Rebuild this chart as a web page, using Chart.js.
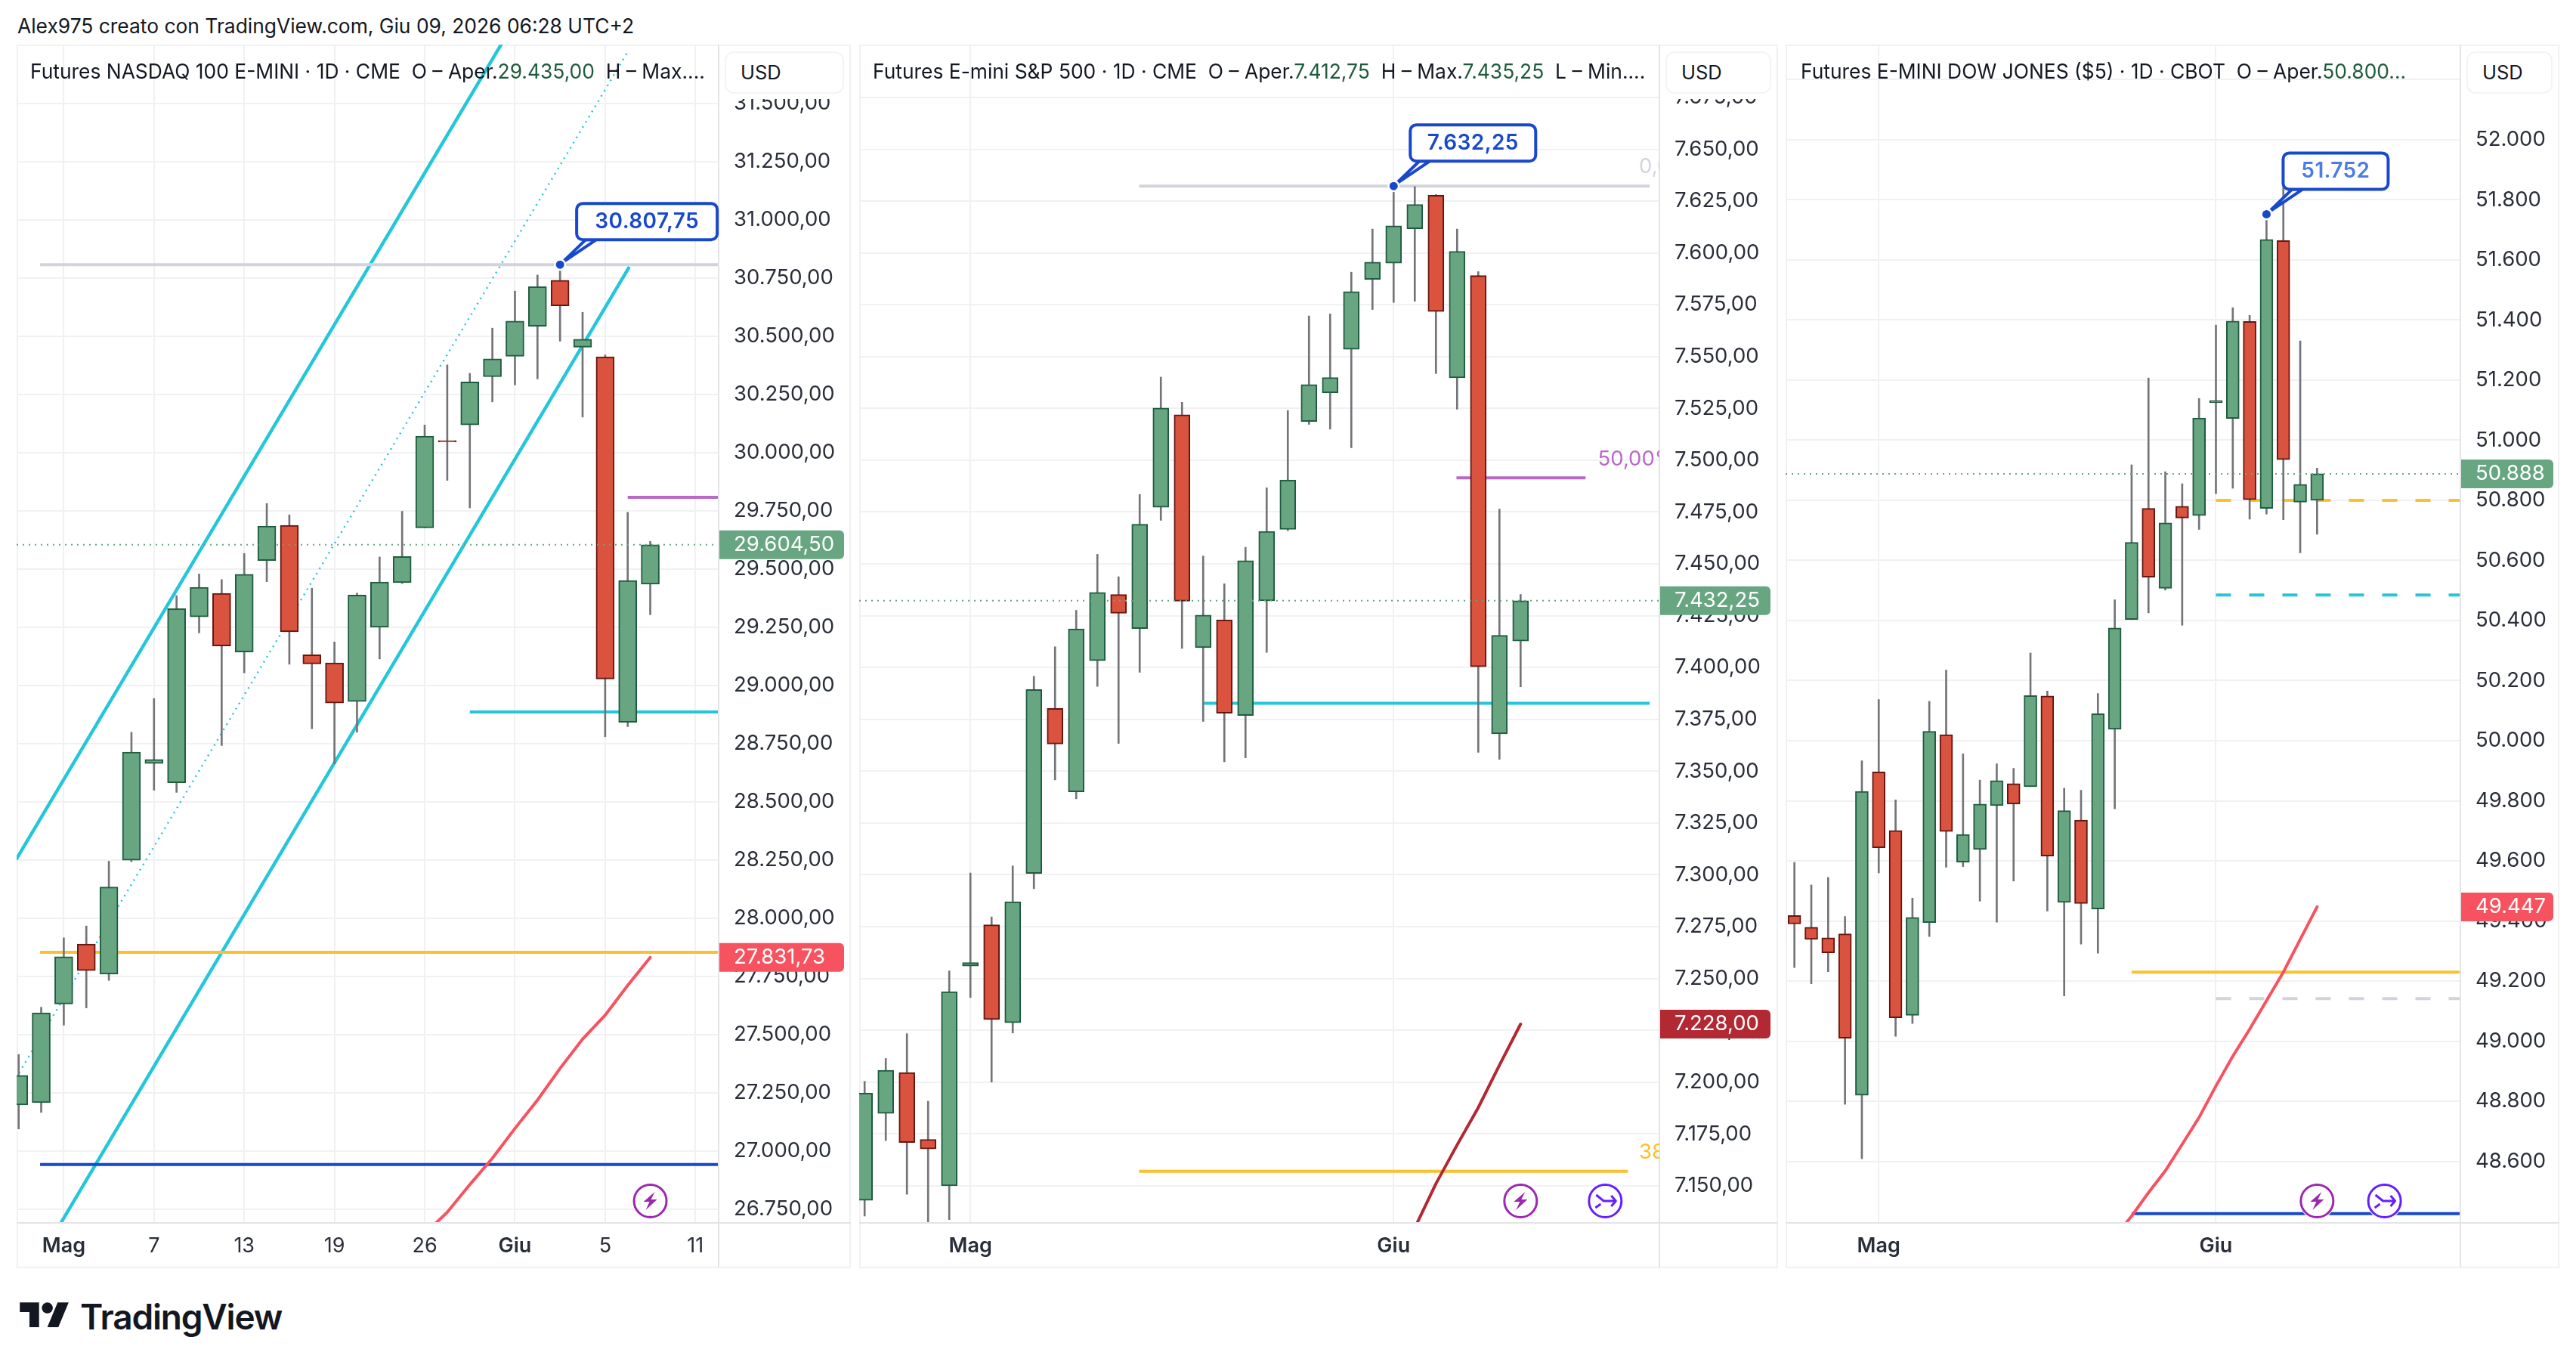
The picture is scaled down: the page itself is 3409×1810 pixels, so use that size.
<!DOCTYPE html>
<html>
<head>
<meta charset="utf-8">
<title>Futures</title>
<script src="https://cdn.jsdelivr.net/npm/chart.js@4/dist/chart.umd.js"></script>
<style>
  html, body { margin: 0; background: #fff; width: 3409px; height: 1810px; overflow: hidden; }
  body, div, span { font-family: "Inter", sans-serif; color: #131722; }
  canvas { position: absolute; top: 59px; }
  #nq { left: 22px; }
  #es { left: 1137px; }
  #ym { left: 2363px; }
  .line { position: absolute; white-space: pre; font-size: 26.4px; line-height: 30px; }
  .title { left: 23px; top: 19px; }
  .legend { top: 79px; }
  .legend b { font-weight: 400; color: #1e5b3c; }
  .mask { position: absolute; top: 61px; height: 70px; background: #fff; }
  .usd { position: absolute; top: 68px; height: 56px; box-sizing: border-box; background: #fff; border: 2px solid #f4f4f5; border-radius: 12px; font-size: 25.5px; line-height: 52px; padding-left: 19px; }
  .brand { position: absolute; left: 26px; top: 1716px; display: flex; align-items: center; }
  .brand span { font-size: 46px; font-weight: 600; letter-spacing: -1.2px; margin-left: 14px; line-height: 50px; }
</style>
</head>
<body>
<div class="line title">Alex975 creato con TradingView.com, Giu 09, 2026 06:28 UTC+2</div>

<canvas id="nq" width="1104" height="1619"></canvas>
<canvas id="es" width="1216" height="1619"></canvas>
<canvas id="ym" width="1024" height="1619"></canvas>

<div class="line legend" style="left:40px">Futures NASDAQ 100 E-MINI · 1D · CME  O – Aper.<b>29.435,00</b>  H – Max....</div>
<div class="line legend" style="left:1155px">Futures E-mini S&amp;P 500 · 1D · CME  O – Aper.<b>7.412,75</b>  H – Max.<b>7.435,25</b>  L – Min....</div>
<div class="line legend" style="left:2383px">Futures E-MINI DOW JONES ($5) · 1D · CBOT  O – Aper.<b>50.800...</b></div>

<div class="mask" style="left:953px;width:171px"></div>
<div class="mask" style="left:2198px;width:153px"></div>
<div class="mask" style="left:3258px;width:127px"></div>

<div class="usd" style="left:959px;width:158px">USD</div>
<div class="usd" style="left:2204px;width:140px">USD</div>
<div class="usd" style="left:3264px;width:114px">USD</div>

<div class="brand">
  <svg width="66" height="51" viewBox="0 0 36 28"><path fill="#131722" d="M14 22H7V11H0V4h14v18zM28 22h-8l7.5-18h8L28 22z"/><circle fill="#131722" cx="20" cy="8" r="4"/></svg>
  <span>TradingView</span>
</div>

<script>
// Futures NASDAQ 100 E-MINI, daily bars from 29 Apr
const nqOpen = [27198, 27208, 27632, 27889, 27760, 28249, 28665, 28582, 29295, 29396, 29144, 29537, 29688, 29132, 29097, 28931, 29250, 29442, 29677, 30052, 30119, 30326, 30414, 30543, 30741, 30453, 30412, 28842, 29435];
const nqHigh = [27415, 27618, 27916, 27967, 28245, 28799, 28944, 29386, 29479, 29455, 29567, 29782, 29733, 29418, 29187, 29397, 29552, 29748, 30119, 30377, 30341, 30535, 30694, 30763, 30807.75, 30603, 30420, 29744, 29619];
const nqLow = [27095, 27166, 27541, 27615, 27733, 28243, 28550, 28541, 29226, 28742, 29054, 29446, 29091, 28814, 28663, 28799, 29114, 29438, 29677, 29881, 29763, 30218, 30291, 30317, 30479, 30153, 28780, 28823, 29304];
const nqClose = [27325, 27594, 27835, 27775, 28134, 28714, 28682, 29330, 29422, 29170, 29478, 29685, 29231, 29093, 28925, 29388, 29444, 29554, 30071, 30046, 30304, 30403, 30565, 30713, 30631, 30487, 29028, 29451, 29604.5];
const nqTicks = [26750, 27000, 27250, 27500, 27750, 28000, 28250, 28500, 28750, 29000, 29250, 29500, 29750, 30000, 30250, 30500, 30750, 31000, 31250, 31500];
const nqDateAt = [2, 6, 10, 14, 18, 22, 26, 30];
const nqDateNames = ['Mag', '7', '13', '19', '26', 'Giu', '5', '11'];
const nqAverage = [26645, 26737, 26856, 26969, 27097, 27219, 27355, 27481, 27584, 27712, 27831.73];
const nqAverageFrom = 18;
const nqLevels = [30807.75, 29808, 28886, 27854, 26942];
const nqLevelFrom = [0.95, 27, 20, 0.95, 0.95];
const nqUpperBand = [[-0.09, 28256], [21.4, 31755]];
const nqLowerBand = [[1.9, 26696], [27.04, 30793]];
const nqMiddleBand = [[0.02, 27336], [27, 31722]];

// Futures E-mini S&P 500
const esOpen = [7143, 7184.9, 7204.6, 7172.4, 7150, 7256, 7275.9, 7228.7, 7300.7, 7380.3, 7340, 7403.3, 7435.2, 7418.8, 7477.3, 7521.9, 7409.6, 7423, 7376.9, 7432.2, 7466.6, 7518.7, 7532.5, 7553.5, 7587.2, 7595.1, 7611.7, 7627.8, 7539.7, 7589.1, 7368, 7412.75];
const esHigh = [7200.4, 7211.4, 7223.4, 7190.8, 7253.7, 7300.9, 7279.7, 7304.3, 7395.8, 7410, 7427.6, 7454.6, 7443.8, 7483.5, 7540.1, 7527.9, 7453.8, 7440.4, 7458, 7486.7, 7524, 7569.6, 7570.6, 7590.7, 7611.5, 7632.25, 7632, 7628.2, 7611.5, 7591, 7476.4, 7435.25];
const esLow = [7135.4, 7171.8, 7145.9, 7130, 7133.7, 7240.8, 7200, 7223.7, 7293.3, 7345.8, 7336.7, 7390.9, 7363.4, 7397.7, 7471, 7409.2, 7374, 7354.5, 7356.4, 7407.3, 7466, 7517.3, 7515, 7506, 7572.7, 7576.1, 7576.7, 7541.8, 7524.6, 7359.1, 7355.7, 7390.7];
const esClose = [7194.7, 7205.7, 7170.9, 7167.8, 7243.6, 7257.7, 7230.2, 7287, 7389.4, 7363.1, 7418.6, 7436.2, 7426.2, 7469.1, 7525.2, 7432, 7425.3, 7378, 7451.5, 7465.7, 7490.5, 7536.5, 7539.9, 7581.3, 7595.6, 7613.1, 7623.4, 7571.7, 7600.8, 7400.4, 7415.5, 7432.25];
const esTicks = [7150, 7175, 7200, 7225, 7250, 7275, 7300, 7325, 7350, 7375, 7400, 7425, 7450, 7475, 7500, 7525, 7550, 7575, 7600, 7625, 7650, 7675];
const esDateAt = [5, 25];
const esDateNames = ['Mag', 'Giu'];
const esAverage = [7109.4, 7129.7, 7151, 7169.7, 7187.7, 7208.2, 7228];
const esAverageFrom = 25;
const esLevels = [7632.25, 7491.5, 7382.8, 7157];
const esLevelFrom = [12.97, 27.97, 16, 12.97];
const esLevelTo = [37.1, 34.07, 37.1, 36.07];
const esFibNames = ['0,00%', '50,00%', '38,20%'];
const esFibValues = [7632.25, 7491.5, 7157];
const esFibAt = [36.6, 34.65, 36.6];

// Futures E-MINI DOW JONES ($5)
const ymOpen = [49418, 49379, 49344, 49357, 48820, 49896, 49701, 49086, 49395, 50020, 49596, 49638, 49784, 49857, 49847, 50149, 49462, 49736, 49440, 50038, 50403, 50773, 50507, 50780, 50749, 51125, 51072, 51395, 50773, 51664, 50794, 50800];
const ymHigh = [49595, 49520, 49545, 49415, 49933, 50137, 49803, 49476, 50131, 50235, 49956, 49869, 49923, 49908, 50292, 50165, 49842, 49835, 50157, 50469, 50918, 51207, 50895, 50855, 51139, 51383, 51441, 51415, 51752, 51844, 51330, 50907];
const ymLow = [49245, 49191, 49231, 48790, 48609, 49560, 49016, 49059, 49348, 49579, 49581, 49466, 49396, 49533, 49847, 49433, 49151, 49323, 49293, 49773, 50403, 50425, 50501, 50384, 50703, 50822, 50840, 50737, 50754, 50735, 50625, 50687];
const ymClose = [49390, 49339, 49294, 49010, 49831, 49644, 49078, 49412, 50031, 49698, 49688, 49789, 49867, 49789, 50150, 49616, 49767, 49458, 50090, 50375, 50660, 50544, 50725, 50741, 51074, 51132, 51396, 50802, 51668, 50935, 50853, 50888];
const ymTicks = [48600, 48800, 49000, 49200, 49400, 49600, 49800, 50000, 50200, 50400, 50600, 50800, 51000, 51200, 51400, 51600, 51800, 52000, 52200];
const ymDateAt = [5, 25];
const ymDateNames = ['Mag', 'Giu'];
const ymAverage = [48348, 48418, 48496, 48569, 48657, 48746, 48851, 48950, 49040, 49135, 49230, 49339, 49447];
const ymAverageFrom = 19;
const ymSolidLevels = [49230, 48426];
const ymDashedLevels = [50800, 50485, 49142];

const UP = '#68a682';
const UP_EDGE = '#1f5c3f';
const DOWN = '#d9533f';
const DOWN_EDGE = '#651610';
const WICK = '#737478';
const GRID = '#f1f1f3';
const FRAME = '#e4e4e7';
const TEXT = '#2a2e39';
const BLUE = '#1848cc';
const CYAN = '#26c6da';
const YELLOW = '#fbc02d';
const PURPLE = '#ba68c8';
const SILVER = '#d1d4dc';
const CORAL = '#f7525f';
const CRIMSON = '#b22833';

function priceText(value, decimals) {
  return value.toLocaleString('de-DE', { minimumFractionDigits: decimals, maximumFractionDigits: decimals });
}

function levelLine(value, from, to, color, width, dash) {
  return {
    type: 'line',
    data: [{ x: from, y: value }, { x: to, y: value }],
    borderColor: color,
    borderWidth: width,
    borderDash: dash || [],
    pointRadius: 0,
    order: 5
  };
}

function slantLine(points, dash) {
  return {
    type: 'line',
    data: points.map(p => ({ x: p[0], y: p[1] })),
    borderColor: CYAN,
    borderWidth: dash ? 2.5 : 4.5,
    borderDash: dash || [],
    borderCapStyle: dash ? 'butt' : 'round',
    pointRadius: 0,
    order: 6
  };
}

function averageLine(values, from, color) {
  return {
    type: 'line',
    data: values.map((v, i) => ({ x: from + i, y: v })),
    borderColor: color,
    borderWidth: 4,
    borderCapStyle: 'round',
    pointRadius: 0,
    order: 4
  };
}

function candleSets(open, high, low, close, bodyWidth) {
  const rising = open.map((o, i) => close[i] >= o);
  return [
    {
      type: 'bar',
      data: high.map((h, i) => ({ x: i, y: [low[i], h] })),
      grouped: false,
      barThickness: 2,
      backgroundColor: WICK,
      order: 2
    },
    {
      type: 'bar',
      data: open.map((o, i) => ({ x: i, y: [o, close[i]] })),
      grouped: false,
      barThickness: bodyWidth,
      backgroundColor: rising.map(r => (r ? UP : DOWN)),
      borderColor: rising.map(r => (r ? UP_EDGE : DOWN_EDGE)),
      borderWidth: 2,
      borderSkipped: false,
      order: 1
    }
  ];
}

function roundedBox(ctx, x, y, w, h, r) {
  ctx.beginPath();
  ctx.roundRect(x, y, w, h, r);
}

function iconRing(ctx, x, y, color) {
  ctx.beginPath();
  ctx.arc(x, y, 24, 0, Math.PI * 2);
  ctx.fillStyle = '#fff';
  ctx.fill();
  ctx.beginPath();
  ctx.arc(x, y, 21.5, 0, Math.PI * 2);
  ctx.lineWidth = 3;
  ctx.strokeStyle = color;
  ctx.stroke();
}

function drawBolt(ctx, x, y, color) {
  iconRing(ctx, x, y, color);
  ctx.beginPath();
  ctx.moveTo(x + 6, y - 12);
  ctx.lineTo(x - 9, y + 1);
  ctx.lineTo(x - 1, y + 1);
  ctx.lineTo(x - 6, y + 12);
  ctx.lineTo(x + 9, y - 2);
  ctx.lineTo(x + 1, y - 2);
  ctx.closePath();
  ctx.fillStyle = color;
  ctx.fill();
}

function drawMerge(ctx, x, y, color) {
  iconRing(ctx, x, y, color);
  ctx.beginPath();
  ctx.moveTo(x - 12, y - 8);
  ctx.lineTo(x - 2, y);
  ctx.lineTo(x + 14, y);
  ctx.moveTo(x - 13, y + 9);
  ctx.lineTo(x - 6, y + 4);
  ctx.moveTo(x + 8, y - 7);
  ctx.lineTo(x + 14, y);
  ctx.lineTo(x + 8, y + 7);
  ctx.stroke();
}

// frame, price badges, top callout and the small event icons
function panelPlugin(p) {
  return {
    id: 'panelExtras',
    beforeDraw(chart) {
      const { ctx, width, height } = chart;
      ctx.save();
      ctx.strokeStyle = '#f1f1f2';
      ctx.lineWidth = 2;
      ctx.strokeRect(1, 1, width - 2, height - 2);
      ctx.restore();
    },
    afterDraw(chart) {
      const { ctx, width, height, chartArea, scales } = chart;
      const font = '27.5px Inter';
      ctx.save();

      // axis separators
      ctx.strokeStyle = FRAME;
      ctx.lineWidth = 2;
      ctx.beginPath();
      ctx.moveTo(chartArea.right, 0);
      ctx.lineTo(chartArea.right, height - 1);
      ctx.moveTo(0, chartArea.bottom);
      ctx.lineTo(width, chartArea.bottom);
      ctx.stroke();

      // percentage captions of the fibonacci levels, cut off by the plot edge
      if (p.fibNames) {
        ctx.save();
        ctx.beginPath();
        ctx.rect(chartArea.left, chartArea.top, chartArea.width, chartArea.height);
        ctx.clip();
        ctx.font = font;
        ctx.textAlign = 'left';
        ctx.textBaseline = 'middle';
        p.fibNames.forEach((name, i) => {
          ctx.fillStyle = p.fibColors[i];
          ctx.fillText(name, scales.x.getPixelForValue(p.fibAt[i]), scales.y.getPixelForValue(p.fibValues[i]) - 25);
        });
        ctx.restore();
      }

      // last price and average tags on the axis
      p.badges.forEach(b => {
        const y = scales.y.getPixelForValue(b.value);
        ctx.fillStyle = b.color;
        roundedBox(ctx, chartArea.right + 1, y - 19, p.badgeWidth, 38, [0, 6, 6, 0]);
        ctx.fill();
        ctx.fillStyle = '#fff';
        ctx.font = font;
        ctx.textAlign = 'left';
        ctx.textBaseline = 'middle';
        ctx.fillText(priceText(b.value, p.decimals), chartArea.right + 20, y);
      });

      // callout on the highest bar
      const dotX = scales.x.getPixelForValue(p.topIndex);
      const dotY = scales.y.getPixelForValue(p.topValue);
      const left = dotX + 22;
      const top = dotY - 81;
      ctx.strokeStyle = BLUE;
      ctx.lineWidth = 4;
      ctx.lineJoin = 'round';
      ctx.fillStyle = '#fff';
      ctx.beginPath();
      ctx.moveTo(left + 12, top + 48);
      ctx.lineTo(dotX + 2, dotY - 2);
      ctx.lineTo(left + 26, top + 48);
      ctx.closePath();
      ctx.fill();
      ctx.stroke();
      roundedBox(ctx, left, top, p.calloutWidth, 48, 8);
      ctx.fill();
      ctx.stroke();
      ctx.beginPath();
      ctx.arc(dotX, dotY, 8, 0, Math.PI * 2);
      ctx.fillStyle = '#fff';
      ctx.fill();
      ctx.beginPath();
      ctx.arc(dotX, dotY, 5.5, 0, Math.PI * 2);
      ctx.fillStyle = BLUE;
      ctx.fill();
      ctx.fillStyle = p.calloutText;
      ctx.font = '600 28px Inter';
      ctx.letterSpacing = '0.4px';
      ctx.textAlign = 'center';
      ctx.textBaseline = 'middle';
      ctx.fillText(priceText(p.topValue, p.decimals), left + p.calloutWidth / 2, top + 24);
      ctx.letterSpacing = '0px';

      const iconY = chartArea.bottom - 29;
      drawBolt(ctx, scales.x.getPixelForValue(p.boltAt), iconY, '#9c27b0');
      if (p.mergeAt !== undefined) {
        drawMerge(ctx, scales.x.getPixelForValue(p.mergeAt), iconY, '#651fff');
      }
      ctx.restore();
    }
  };
}

function drawPanel(p) {
  new Chart(document.getElementById(p.canvas), {
    type: 'bar',
    data: { datasets: p.datasets },
    plugins: [panelPlugin(p)],
    options: {
      responsive: false,
      animation: false,
      events: [],
      layout: { padding: 0, autoPadding: false },
      plugins: { legend: { display: false }, tooltip: { enabled: false } },
      scales: {
        x: {
          type: 'linear',
          min: p.xMin,
          max: p.xMax,
          offset: false,
          afterBuildTicks: scale => { scale.ticks = p.dateAt.map(v => ({ value: v })); },
          afterFit: scale => {
            scale.height = 60;
            scale.paddingLeft = 0;
            scale.paddingRight = 0;
          },
          grid: { color: GRID, lineWidth: 2, drawTicks: false, offset: false },
          border: { display: false },
          ticks: {
            autoSkip: false,
            maxRotation: 0,
            padding: 15,
            color: TEXT,
            callback: (v, i) => p.dateNames[i],
            font: c => ({ family: 'Inter', size: 27, weight: /[a-z]/i.test(p.dateNames[c.index] || '') ? '600' : '400' })
          }
        },
        y: {
          type: 'linear',
          position: 'right',
          min: p.yMin,
          max: p.yMax,
          afterBuildTicks: scale => { scale.ticks = p.priceTicks.map(v => ({ value: v })); },
          afterFit: scale => {
            scale.width = p.axisWidth;
            scale.paddingTop = 0;
            scale.paddingBottom = 0;
          },
          grid: { color: GRID, lineWidth: 2, drawTicks: false },
          border: { display: false },
          ticks: {
            autoSkip: false,
            padding: 20,
            crossAlign: 'near',
            color: TEXT,
            font: { family: 'Inter', size: 27.5 },
            callback: v => priceText(v, p.decimals)
          }
        }
      }
    }
  });
}

function priceDots(value, xMin, xMax) {
  const line = levelLine(value, xMin, xMax, UP, 2, [2, 6]);
  line.order = 0;
  return line;
}

drawPanel({
  canvas: 'nq', decimals: 2, axisWidth: 175,
  xMin: -0.09, xMax: 31.03, yMin: 26691.5, yMax: 31753,
  dateAt: nqDateAt, dateNames: nqDateNames, priceTicks: nqTicks,
  badgeWidth: 165, calloutWidth: 186, calloutText: BLUE,
  topIndex: 24, topValue: 30807.75, boltAt: 28,
  badges: [{ value: 29604.5, color: UP }, { value: 27831.73, color: CORAL }],
  datasets: [
    slantLine(nqUpperBand),
    slantLine(nqLowerBand),
    slantLine(nqMiddleBand, [2, 6]),
    levelLine(nqLevels[0], nqLevelFrom[0], 31.03, SILVER, 4),
    levelLine(nqLevels[1], nqLevelFrom[1], 31.03, PURPLE, 4),
    levelLine(nqLevels[2], nqLevelFrom[2], 31.03, CYAN, 4),
    levelLine(nqLevels[3], nqLevelFrom[3], 31.03, YELLOW, 4),
    levelLine(nqLevels[4], nqLevelFrom[4], 31.03, BLUE, 4),
    averageLine(nqAverage, nqAverageFrom, CORAL),
    priceDots(nqClose[28], -0.09, 31.03),
    ...candleSets(nqOpen, nqHigh, nqLow, nqClose, 24)
  ]
});

drawPanel({
  canvas: 'es', decimals: 2, axisWidth: 157,
  xMin: -0.257, xMax: 37.56, yMin: 7132.1, yMax: 7700.5,
  dateAt: esDateAt, dateNames: esDateNames, priceTicks: esTicks,
  badgeWidth: 146, calloutWidth: 166, calloutText: BLUE,
  topIndex: 25, topValue: 7632.25, boltAt: 31, mergeAt: 35,
  fibNames: esFibNames, fibValues: esFibValues, fibAt: esFibAt,
  fibColors: [SILVER, PURPLE, YELLOW],
  badges: [{ value: 7432.25, color: UP }, { value: 7228, color: CRIMSON }],
  datasets: [
    levelLine(esLevels[0], esLevelFrom[0], esLevelTo[0], SILVER, 4),
    levelLine(esLevels[1], esLevelFrom[1], esLevelTo[1], PURPLE, 4),
    levelLine(esLevels[2], esLevelFrom[2], esLevelTo[2], CYAN, 4),
    levelLine(esLevels[3], esLevelFrom[3], esLevelTo[3], YELLOW, 4),
    averageLine(esAverage, esAverageFrom, CRIMSON),
    priceDots(esClose[31], -0.257, 37.56),
    ...candleSets(esOpen, esHigh, esLow, esClose, 21)
  ]
});

drawPanel({
  canvas: 'ym', decimals: 0, axisWidth: 131,
  xMin: -0.524, xMax: 39.5, yMin: 48395.4, yMax: 52316.4,
  dateAt: ymDateAt, dateNames: ymDateNames, priceTicks: ymTicks,
  badgeWidth: 122, calloutWidth: 139, calloutText: '#4a7be6',
  topIndex: 28, topValue: 51752, boltAt: 31, mergeAt: 35,
  badges: [{ value: 50888, color: UP }, { value: 49447, color: CORAL }],
  datasets: [
    levelLine(ymSolidLevels[0], 20, 39.5, YELLOW, 4),
    levelLine(ymSolidLevels[1], 20, 39.5, BLUE, 4),
    levelLine(ymDashedLevels[0], 25, 39.5, YELLOW, 4, [20, 24]),
    levelLine(ymDashedLevels[1], 25, 39.5, CYAN, 4, [20, 24]),
    levelLine(ymDashedLevels[2], 25, 39.5, SILVER, 4, [20, 24]),
    averageLine(ymAverage, ymAverageFrom, CORAL),
    priceDots(ymClose[31], -0.524, 39.5),
    ...candleSets(ymOpen, ymHigh, ymLow, ymClose, 17)
  ]
});
</script>
</body>
</html>
